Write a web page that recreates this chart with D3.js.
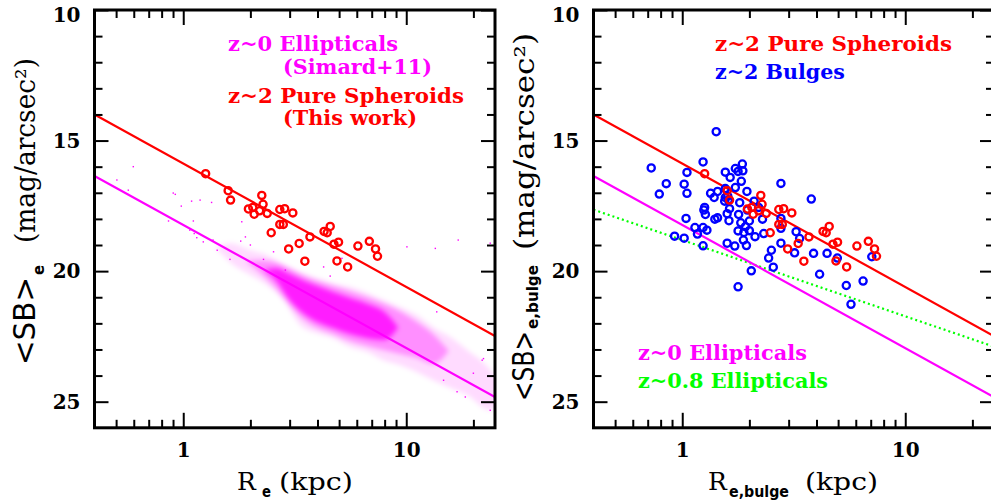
<!DOCTYPE html>
<html>
<head>
<meta charset="utf-8">
<script src="https://cdn.jsdelivr.net/npm/d3@7"></script>
<style>
  body { margin: 0; background: #fff; }
  .tick line { stroke: #000; stroke-width: 2; }
  .tick text { font-family: "DejaVu Serif", serif; font-size: 20px; font-weight: bold; fill: #000; }
</style>
</head>
<body>
<svg id="chart" width="991" height="504"></svg>
<script>
// ---- data ----
// z~2 pure spheroids (Re in kpc, <SB>e in mag/arcsec^2)
const spheroidR  = [1.26,1.59,1.63,2.25,2.28,1.96,2.05,2.08,2.20,2.38,2.71,2.85,3.10,2.71,2.81,2.48,2.97,3.31,3.70,3.51,4.28,4.42,4.56,4.74,4.97,4.89,5.46,6.07,6.83,7.28,7.43];
const spheroidSB = [16.27,16.92,17.28,17.10,17.44,17.62,17.56,17.82,17.69,17.79,17.64,17.61,17.77,18.21,18.21,18.53,19.15,18.94,18.69,19.62,18.48,18.53,18.29,18.97,18.89,19.61,19.84,19.04,18.86,19.15,19.43];

// z~2 bulges
const bulgeR  = [1.42,0.726,0.848,0.789,1.02,1.05,1.05,1.24,1.56,1.64,1.73,1.78,1.86,1.87,1.84,1.73,1.56,1.95,1.34,1.44,
                 1.39,1.56,1.61,1.55,1.60,1.26,1.25,1.27,1.40,1.44,1.63,1.59,1.62,1.81,1.79,1.96,2.00,1.83,1.92,1.78,
                 1.89,2.00,2.10,2.20,2.29,2.32,2.12,1.88,1.94,1.59,1.72,1.04,1.14,1.17,1.24,1.29,1.24,0.924,1.02,2.77,
                 2.77,2.77,2.77,2.51,2.44,2.56,2.04,1.78,3.24,3.36,3.19,3.79,3.88,4.46,4.96,4.13,5.44,5.71,6.47,7.08];
const bulgeSB = [14.66,16.05,16.65,17.05,16.67,17.02,16.22,15.82,16.21,16.41,16.07,16.18,15.90,16.16,16.56,16.80,16.84,16.95,17.02,16.95,
                 17.18,17.18,17.28,17.32,17.13,17.56,17.66,17.83,18.01,17.96,17.61,17.80,18.07,17.38,17.83,17.66,18.08,18.15,18.30,18.46,
                 18.52,18.45,17.32,17.56,18.01,18.56,18.68,18.81,19.02,18.93,19.04,17.98,18.33,18.58,18.33,18.43,19.03,18.66,18.74,16.64,
                 17.98,18.36,18.93,19.20,19.50,19.85,19.99,20.60,18.49,18.75,19.30,17.24,19.32,19.32,19.50,20.12,20.55,21.27,20.38,19.45];

// z~0 ellipticals (Simard+11): density of the point cloud, as SB bands per Re column
const cloudOuterR  = [1.4,1.62,2.00,2.38,2.81,3.35,3.99,4.71,5.61,6.69,7.89,9.40,11.2,13.2,15.8,18.8,23.8,26];
const cloudOuterHi = [19.10,18.93,19.20,19.39,19.77,20.04,20.27,20.46,20.61,20.84,21.11,21.38,21.69,22.15,22.53,23.03,23.79,24.3];
const cloudOuterLo = [19.10,19.66,20.15,20.54,21.11,22.07,22.38,22.57,22.91,23.10,23.41,23.60,23.87,24.18,24.48,24.75,25.33,25.0];
const cloudMidR    = [1.9,2.2,2.6,3.0,3.5,4.0,4.7,5.6,6.7,8.0,9.5,11.2,13.2,15.5];
const cloudMidHi   = [19.60,19.58,19.66,19.89,20.19,20.38,20.57,20.77,21.00,21.26,21.57,21.95,22.41,23.05];
const cloudMidLo   = [19.60,20.04,20.65,21.30,21.88,22.18,22.41,22.68,22.87,23.03,23.18,23.33,23.56,23.05];
const cloudCoreR   = [2.3,2.6,3.0,3.5,4.0,4.7,5.6,6.7,8.0,9.2];
const cloudCoreHi  = [19.95,19.89,20.11,20.38,20.57,20.80,21.03,21.26,21.57,22.15];
const cloudCoreLo  = [19.95,20.34,21.11,21.65,21.95,22.18,22.41,22.57,22.64,22.15];
// scattered outliers of the same cloud
const sparseR  = [0.504,0.567,0.597,0.859,0.902,0.921,0.98,1.07,1.09,1.11,1.12,1.15,1.19,1.23,1.34,1.36,1.42,1.62,1.81,1.83,
                  1.90,2.00,2.29,2.54,2.87,4.26,4.56,5.15,10.07,13.5,13.7,14.7,16.9,17.1,18.4,20.0,21.9,22.2,23.8,23.8];
const sparseSB = [16.51,16.90,16.00,18.08,17.01,17.06,17.51,18.43,17.32,18.08,18.56,18.72,17.28,18.88,17.37,18.81,19.20,19.55,18.85,18.11,
                  18.69,19.00,19.55,19.26,19.96,19.84,20.19,19.51,19.07,19.13,21.56,24.18,24.62,18.81,24.82,23.91,23.41,23.35,18.93,25.33];

// relations: SB = zero + slope * log10(Re)
const relNames = ['z~2 Pure Spheroids', 'z~0 Ellipticals', 'z~0.8 Ellipticals'];
const relZero  = [15.88, 18.23, 18.81];
const relSlope = [4.727, 4.716, 2.92];

// axis ticks
const xMajor = [1, 10];
const xMinor = [0.5, 0.6, 0.7, 0.8, 0.9, 2, 3, 4, 5, 6, 7, 8, 9, 20];
const yMajor = [10, 15, 20, 25];
const yMinor = [11, 12, 13, 14, 16, 17, 18, 19, 21, 22, 23, 24];

const leftLegend  = ['z~0 Ellipticals', '(Simard+11)', 'z~2 Pure Spheroids', '(This work)'];
const rightLegend = ['z~2 Pure Spheroids', 'z~2 Bulges', 'z~0 Ellipticals', 'z~0.8 Ellipticals'];

// ---- drawing ----
const MAGENTA = '#ff00ff', RED = '#ff0000', BLUE = '#0000ff', GREEN = '#00ff00';
const svg = d3.select('#chart');
const plotTop = 10, plotBottom = 427.8;
const y = d3.scaleLinear().domain([10, 26]).range([plotTop, plotBottom]);

const defs = svg.append('defs');
defs.append('filter').attr('id', 'soft')
    .attr('x', '-10%').attr('y', '-10%').attr('width', '120%').attr('height', '120%')
  .append('feGaussianBlur').attr('stdDeviation', 2.5);

function panel(id, left, right) {
    const x = d3.scaleLog().domain([0.4, 25]).range([left, right]);
    defs.append('clipPath').attr('id', 'clip-' + id)
      .append('rect').attr('x', left).attr('y', plotTop)
      .attr('width', right - left).attr('height', plotBottom - plotTop);
    const g = svg.append('g');
    const plot = g.append('g').attr('clip-path', `url(#clip-${id})`);
    return { x, g, plot, left, right };
}

function axes(p) {
    const { x, g, left, right } = p;
    const noLabel = () => '';
    // bottom, labelled
    g.append('g').attr('transform', `translate(0,${plotBottom})`)
      .call(d3.axisBottom(x).tickValues(xMajor).tickSizeInner(-15).tickSizeOuter(0).tickPadding(15).tickFormat(d => d))
      .call(a => a.select('.domain').remove());
    g.append('g').attr('transform', `translate(0,${plotBottom})`)
      .call(d3.axisBottom(x).tickValues(xMinor).tickSizeInner(-8).tickSizeOuter(0).tickFormat(noLabel))
      .call(a => a.select('.domain').remove());
    // top
    g.append('g').attr('transform', `translate(0,${plotTop})`)
      .call(d3.axisTop(x).tickValues(xMajor).tickSizeInner(-15).tickSizeOuter(0).tickFormat(noLabel))
      .call(a => a.select('.domain').remove());
    g.append('g').attr('transform', `translate(0,${plotTop})`)
      .call(d3.axisTop(x).tickValues(xMinor).tickSizeInner(-8).tickSizeOuter(0).tickFormat(noLabel))
      .call(a => a.select('.domain').remove());
    // left, labelled (the top label sits a little lower so it stays on the page)
    g.append('g').attr('transform', `translate(${left},0)`)
      .call(d3.axisLeft(y).tickValues(yMajor).tickSizeInner(-14).tickSizeOuter(0).tickPadding(14))
      .call(a => a.select('.domain').remove())
      .call(a => a.selectAll('.tick text').attr('dy', d => d === 10 ? '0.55em' : '0.34em'));
    g.append('g').attr('transform', `translate(${left},0)`)
      .call(d3.axisLeft(y).tickValues(yMinor).tickSizeInner(-8).tickSizeOuter(0).tickFormat(noLabel))
      .call(a => a.select('.domain').remove());
    // right
    g.append('g').attr('transform', `translate(${right},0)`)
      .call(d3.axisRight(y).tickValues(yMajor).tickSizeInner(-14).tickSizeOuter(0).tickFormat(noLabel))
      .call(a => a.select('.domain').remove());
    g.append('g').attr('transform', `translate(${right},0)`)
      .call(d3.axisRight(y).tickValues(yMinor).tickSizeInner(-8).tickSizeOuter(0).tickFormat(noLabel))
      .call(a => a.select('.domain').remove());
    // frame
    g.append('rect').attr('x', left).attr('y', plotTop)
      .attr('width', right - left).attr('height', plotBottom - plotTop)
      .attr('fill', 'none').attr('stroke', '#000').attr('stroke-width', 3);
}

function relation(p, i, color, dash) {
    const [r0, r1] = p.x.domain();
    p.plot.append('line')
      .attr('x1', p.x(r0)).attr('y1', y(relZero[i] + relSlope[i] * Math.log10(r0)))
      .attr('x2', p.x(r1)).attr('y2', y(relZero[i] + relSlope[i] * Math.log10(r1)))
      .attr('stroke', color).attr('stroke-width', 2.2)
      .attr('stroke-dasharray', dash || null);
}

function circles(p, rs, sbs, color) {
    p.plot.append('g').selectAll('circle')
      .data(d3.zip(rs, sbs)).join('circle')
      .attr('cx', d => p.x(d[0])).attr('cy', d => y(d[1])).attr('r', 3.6)
      .attr('fill', 'none').attr('stroke', color).attr('stroke-width', 2.3);
}

function legend(g, lines, colors, xs, ys, lens) {
    g.append('g').selectAll('text')
      .data(lines).join('text')
      .attr('x', (d, i) => xs[i]).attr('y', (d, i) => ys[i])
      .attr('textLength', (d, i) => lens[i]).attr('lengthAdjust', 'spacingAndGlyphs')
      .attr('fill', (d, i) => colors[i])
      .style('font-family', '"DejaVu Serif", serif').style('font-size', '20px').style('font-weight', 'bold')
      .text(d => d);
}

function ylabel(g, sub, bx, pieces) {
    // pieces: [startY, length] for "<SB>", subscript, "(mag/arcsec²)"
    const t = g.append('g').attr('transform', 'rotate(-90)');
    t.append('text').attr('x', -pieces[0][0]).attr('y', bx)
      .attr('textLength', pieces[0][1]).attr('lengthAdjust', 'spacingAndGlyphs')
      .style('font-family', '"DejaVu Sans", sans-serif').style('font-size', '30px').text('<SB>');
    t.append('text').attr('x', -pieces[1][0]).attr('y', bx + pieces[1][2])
      .attr('textLength', pieces[1][1]).attr('lengthAdjust', 'spacingAndGlyphs')
      .style('font-family', '"DejaVu Sans", sans-serif').style('font-size', '15px').style('font-weight', 'bold').text(sub);
    t.append('text').attr('x', -pieces[2][0]).attr('y', bx)
      .attr('textLength', pieces[2][1]).attr('lengthAdjust', 'spacingAndGlyphs')
      .style('font-family', '"DejaVu Serif", serif').style('font-size', '27px').text('(mag/arcsec²)');
}

function xlabel(g, sub, pieces) {
    // pieces: [x, len] for "R", subscript, "(kpc)"
    g.append('text').attr('x', pieces[0][0]).attr('y', 490)
      .style('font-family', '"DejaVu Serif", serif').style('font-size', '25px').text('R');
    g.append('text').attr('x', pieces[1][0]).attr('y', 497)
      .attr('textLength', pieces[1][1]).attr('lengthAdjust', 'spacingAndGlyphs')
      .style('font-family', '"DejaVu Sans", sans-serif').style('font-size', '15px').style('font-weight', 'bold').text(sub);
    g.append('text').attr('x', pieces[2][0]).attr('y', 490)
      .attr('textLength', pieces[2][1]).attr('lengthAdjust', 'spacingAndGlyphs')
      .style('font-family', '"DejaVu Serif", serif').style('font-size', '25px').text('(kpc)');
}

// ---- left panel ----
const L = panel('L', 94.5, 495);
const band = (rs, hi, lo) => d3.area()
    .x((d, i) => L.x(rs[i])).y0((d, i) => y(hi[i])).y1((d, i) => y(lo[i]))
    .curve(d3.curveMonotoneX)(rs);
const cloud = L.plot.append('g').attr('filter', 'url(#soft)');
cloud.append('path').attr('d', band(cloudOuterR, cloudOuterHi, cloudOuterLo)).attr('fill', MAGENTA).attr('fill-opacity', 0.14);
cloud.append('path').attr('d', band(cloudMidR, cloudMidHi, cloudMidLo)).attr('fill', MAGENTA).attr('fill-opacity', 0.35);
cloud.append('path').attr('d', band(cloudCoreR, cloudCoreHi, cloudCoreLo)).attr('fill', MAGENTA).attr('fill-opacity', 0.8);
L.plot.append('g').selectAll('rect')
  .data(d3.zip(sparseR, sparseSB)).join('rect')
  .attr('x', d => L.x(d[0]) - 0.7).attr('y', d => y(d[1]) - 0.7)
  .attr('width', 1.4).attr('height', 1.4).attr('fill', MAGENTA);
relation(L, 1, MAGENTA);
relation(L, 0, RED);
circles(L, spheroidR, spheroidSB, RED);
axes(L);
legend(L.g, leftLegend, [MAGENTA, MAGENTA, RED, RED], [228, 283, 228, 283], [51, 74, 103, 125], [170, 149, 236, 134]);
ylabel(L.g, 'e', 35, [[365, 88], [275, 10, 9], [243, 185]]);
xlabel(L.g, 'e', [[237], [262, 9], [279, 74]]);

// ---- right panel ----
const R = panel('R', 593.5, 994);
relation(R, 2, GREEN, '2,3');
relation(R, 1, MAGENTA);
relation(R, 0, RED);
circles(R, bulgeR, bulgeSB, BLUE);
circles(R, spheroidR, spheroidSB, RED);
axes(R);
legend(R.g, rightLegend, [RED, BLUE, MAGENTA, GREEN], [715, 715, 638, 638], [51, 79, 360, 388], [237, 130, 169, 190]);
ylabel(R.g, 'e,bulge', 534, [[401, 70], [329, 64, 4], [250, 217]]);
xlabel(R.g, 'e,bulge', [[708], [729, 60], [805, 73]]);
</script>
</body>
</html>
